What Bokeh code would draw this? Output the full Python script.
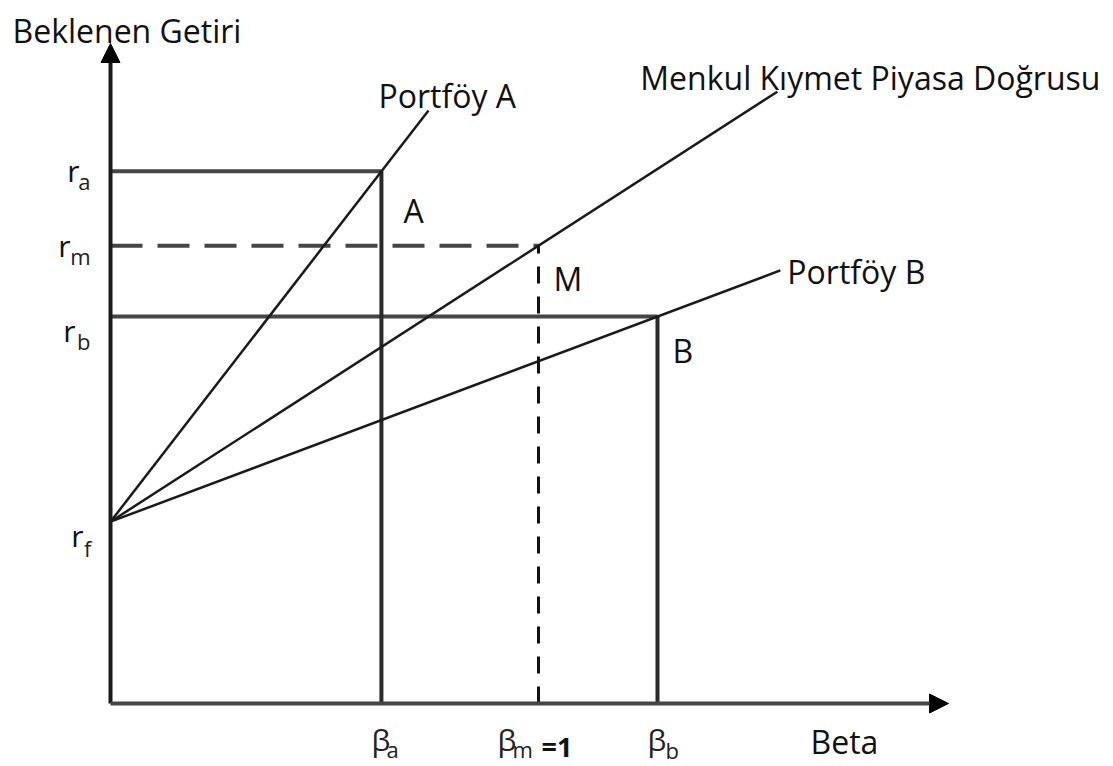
from bokeh.plotting import figure
from bokeh.models import Range1d, Arrow, NormalHead, ColumnDataSource
from bokeh.core.properties import value
from bokeh.embed import file_html
from bokeh.resources import INLINE

# ---------------- data ----------------
r_f = 3.03          # risk-free return
r_b = 6.45          # expected return, portfolio B
r_m = 7.63          # expected return, market
r_a = 8.87          # expected return, portfolio A
beta_a = 0.633
beta_m = 1.0
beta_b = 1.278
beta_end_A = 0.743    # where the Portföy A line stops
beta_end_SML = 1.558  # where the SML stops
beta_end_B = 1.565    # where the Portföy B line stops
axis_y_top = 11.0
axis_x_end = 1.958

r_names = ["a", "m", "b", "f"]
r_values = [r_a, r_m, r_b, r_f]
beta_names = ["a", "m", "b"]
beta_values = [beta_a, beta_m, beta_b]

FONT = value("Open Sans")

def line_y(beta_pt, r_pt, beta):
    return r_f + (r_pt - r_f) / beta_pt * beta

yA_end = line_y(beta_a, r_a, beta_end_A)
ySML_end = line_y(beta_m, r_m, beta_end_SML)
yB_end = line_y(beta_b, r_b, beta_end_B)

W, H = 1110, 764
# 428 px per beta unit, 60 px per return unit; origin at (110, 703)
p = figure(width=W, height=H,
           x_range=Range1d(-110 / 428, -110 / 428 + W / 428),
           y_range=Range1d(703 / 60 - H / 60, 703 / 60),
           output_backend="svg", toolbar_location=None, min_border=0,
           x_axis_location=None, y_axis_location=None)
p.outline_line_color = None
p.grid.visible = False
p.background_fill_color = "white"
p.border_fill_color = "white"

# axes with arrows
p.add_layout(Arrow(end=NormalHead(size=19, fill_color="black", line_color="black", line_width=1),
                   x_start=0, y_start=0, x_end=0, y_end=axis_y_top,
                   line_width=4, line_color="#1a1a1a"))
p.add_layout(Arrow(end=NormalHead(size=19, fill_color="black", line_color="black", line_width=1),
                   x_start=0, y_start=0, x_end=axis_x_end, y_end=0,
                   line_width=4, line_color="#444444"))

# horizontal return levels
p.segment(x0=[0, 0], y0=[r_a, r_b], x1=[beta_a, beta_b], y1=[r_a, r_b],
          line_width=4, line_color="#454545")
p.segment(x0=[0], y0=[r_m], x1=[beta_m], y1=[r_m],
          line_width=4, line_color="#454545", line_dash="32 15")

# vertical beta levels
p.segment(x0=[beta_a, beta_b], y0=[0, 0], x1=[beta_a, beta_b], y1=[r_a, r_b],
          line_width=4, line_color="#2a2a2a")
p.segment(x0=[beta_m], y0=[0], x1=[beta_m], y1=[r_m],
          line_width=3, line_color="#111111", line_dash="17 13")

# lines from r_f
p.segment(x0=[0, 0, 0], y0=[r_f, r_f, r_f],
          x1=[beta_end_A, beta_end_SML, beta_end_B], y1=[yA_end, ySML_end, yB_end],
          line_width=2.5, line_color="#1a1a1a")

# main labels
lab = ColumnDataSource(dict(
    x=[0, beta_end_A, beta_end_SML, beta_end_B, beta_a, beta_m, beta_b, axis_x_end],
    y=[axis_y_top, yA_end, ySML_end, yB_end, r_a, r_m, r_b, 0],
    text=["Beklenen Getiri", "Portföy A", "Menkul Kıymet Piyasa Doğrusu", "Portföy B",
          "A", "M", "B", "Beta"],
    xo=[-98, -50, -137, 7, 22, 15, 15, -138],
    yo=[-13, -15, -14, 1, 39, 33, 34, 38],
))
p.text(x="x", y="y", text="text", x_offset="xo", y_offset="yo", source=lab,
       text_font=FONT, text_font_size="32px", text_color="#111111",
       text_align="left", text_baseline="alphabetic")

# r labels on the y axis
rs = ColumnDataSource(dict(
    x=[0] * 4, y=r_values, r=["r"] * 4, sub=r_names,
    rxo=[-31, -40, -35, -27], ryo=[-1, 0, 14, 14],
    sxo=[-20, -20, -20, -19], syo=[10, 10, 24, 26],
))
p.text(x="x", y="y", text="r", x_offset="rxo", y_offset="ryo", source=rs,
       text_font=FONT, text_font_size="30px", text_color="#111111",
       text_align="right", text_baseline="alphabetic")
p.text(x="x", y="y", text="sub", x_offset="sxo", y_offset="syo", source=rs,
       text_font=FONT, text_font_size="22px", text_color="#222222",
       text_align="right", text_baseline="alphabetic")

# beta labels on the x axis
bs = ColumnDataSource(dict(
    x=beta_values, y=[0] * 3, b=["β"] * 3, sub=beta_names,
    bxo=[-10, -41, -10], byo=[36, 36, 36],
    sxo=[5, -26, 8], syo=[45, 45, 46],
))
p.text(x="x", y="y", text="b", x_offset="bxo", y_offset="byo", source=bs,
       text_font=FONT, text_font_size="30px", text_color="#222222",
       text_align="left", text_baseline="alphabetic")
p.text(x="x", y="y", text="sub", x_offset="sxo", y_offset="syo", source=bs,
       text_font=FONT, text_font_size="22px", text_color="#222222",
       text_align="left", text_baseline="alphabetic")
p.text(x=[beta_m], y=[0], text=["=1"], x_offset=3, y_offset=43,
       text_font=FONT, text_font_size="27px", text_font_style="bold",
       text_color="#111111", text_align="left", text_baseline="alphabetic")

open("out.html", "w").write(file_html(p, INLINE))
